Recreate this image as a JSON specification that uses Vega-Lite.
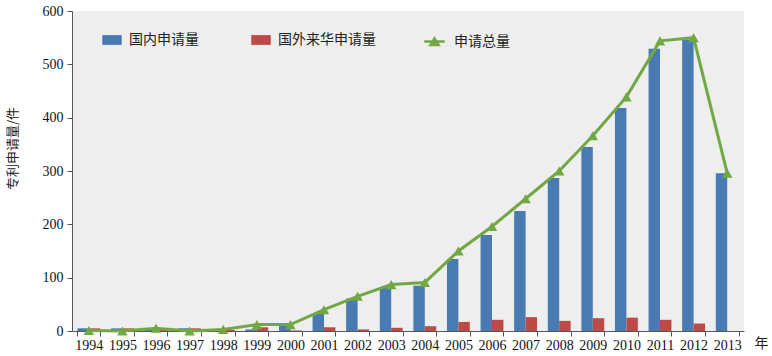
{
  "$schema": "https://vega.github.io/schema/vega-lite/v6.json",
  "width": 672,
  "height": 320,
  "autosize": {"type": "none"},
  "padding": {"left": 72, "top": 11, "right": 28, "bottom": 25},
  "background": "white",
  "config": {
    "view": {"fill": "#EDEEED", "stroke": null},
    "axis": {"labelFont": "Liberation Serif", "labelFontSize": 14, "labelColor": "#111", "domainColor": "#555", "tickColor": "#555", "grid": false, "titleFont": "Noto Sans CJK SC", "titleFontWeight": "normal", "titleColor": "#222"},
    "legend": {"labelFont": "Noto Sans CJK SC", "labelFontSize": 14, "labelColor": "#222"}
  },
  "data": {
    "values": [
      {"year": "1994", "series": "国内申请量", "value": 5}, {"year": "1994", "series": "国外来华申请量", "value": 5}, {"year": "1994", "series": "申请总量", "value": 1},
      {"year": "1995", "series": "国内申请量", "value": 5}, {"year": "1995", "series": "国外来华申请量", "value": 5}, {"year": "1995", "series": "申请总量", "value": 0},
      {"year": "1996", "series": "国内申请量", "value": 5}, {"year": "1996", "series": "国外来华申请量", "value": 5}, {"year": "1996", "series": "申请总量", "value": 5},
      {"year": "1997", "series": "国内申请量", "value": 5}, {"year": "1997", "series": "国外来华申请量", "value": 5}, {"year": "1997", "series": "申请总量", "value": 0},
      {"year": "1998", "series": "国内申请量", "value": 3}, {"year": "1998", "series": "国外来华申请量", "value": 2}, {"year": "1998", "series": "申请总量", "value": 3},
      {"year": "1999", "series": "国内申请量", "value": 3}, {"year": "1999", "series": "国外来华申请量", "value": 7}, {"year": "1999", "series": "申请总量", "value": 12},
      {"year": "2000", "series": "国内申请量", "value": 12}, {"year": "2000", "series": "国外来华申请量", "value": 1}, {"year": "2000", "series": "申请总量", "value": 12},
      {"year": "2001", "series": "国内申请量", "value": 33}, {"year": "2001", "series": "国外来华申请量", "value": 7}, {"year": "2001", "series": "申请总量", "value": 40},
      {"year": "2002", "series": "国内申请量", "value": 61}, {"year": "2002", "series": "国外来华申请量", "value": 3}, {"year": "2002", "series": "申请总量", "value": 65},
      {"year": "2003", "series": "国内申请量", "value": 82}, {"year": "2003", "series": "国外来华申请量", "value": 6}, {"year": "2003", "series": "申请总量", "value": 87},
      {"year": "2004", "series": "国内申请量", "value": 85}, {"year": "2004", "series": "国外来华申请量", "value": 9}, {"year": "2004", "series": "申请总量", "value": 91},
      {"year": "2005", "series": "国内申请量", "value": 135}, {"year": "2005", "series": "国外来华申请量", "value": 17}, {"year": "2005", "series": "申请总量", "value": 150},
      {"year": "2006", "series": "国内申请量", "value": 180}, {"year": "2006", "series": "国外来华申请量", "value": 21}, {"year": "2006", "series": "申请总量", "value": 196},
      {"year": "2007", "series": "国内申请量", "value": 225}, {"year": "2007", "series": "国外来华申请量", "value": 26}, {"year": "2007", "series": "申请总量", "value": 248},
      {"year": "2008", "series": "国内申请量", "value": 287}, {"year": "2008", "series": "国外来华申请量", "value": 19}, {"year": "2008", "series": "申请总量", "value": 300},
      {"year": "2009", "series": "国内申请量", "value": 345}, {"year": "2009", "series": "国外来华申请量", "value": 24}, {"year": "2009", "series": "申请总量", "value": 366},
      {"year": "2010", "series": "国内申请量", "value": 418}, {"year": "2010", "series": "国外来华申请量", "value": 25}, {"year": "2010", "series": "申请总量", "value": 439},
      {"year": "2011", "series": "国内申请量", "value": 529}, {"year": "2011", "series": "国外来华申请量", "value": 21}, {"year": "2011", "series": "申请总量", "value": 544},
      {"year": "2012", "series": "国内申请量", "value": 546}, {"year": "2012", "series": "国外来华申请量", "value": 14}, {"year": "2012", "series": "申请总量", "value": 550},
      {"year": "2013", "series": "国内申请量", "value": 296}, {"year": "2013", "series": "国外来华申请量", "value": 0}, {"year": "2013", "series": "申请总量", "value": 296}
    ]
  },
  "encoding": {
    "x": {
      "field": "year", "type": "ordinal",
      "scale": {"paddingInner": 0.32, "paddingOuter": 0.16},
      "axis": {"labelAngle": 0, "tickBand": "extent", "tickSize": 5, "labelPadding": 2, "title": "年", "titleFontSize": 14, "titleAnchor": "end", "titleAlign": "left", "titleX": 682, "titleY": 12, "titleBaseline": "middle"}
    },
    "y": {
      "field": "value", "type": "quantitative",
      "scale": {"domain": [0, 600], "nice": false},
      "axis": {"values": [0, 100, 200, 300, 400, 500, 600], "tickSize": 5, "labelPadding": 4, "title": "专利申请量/件", "titleFontSize": 13, "titleAngle": -90, "titleX": -60, "titleY": 137, "titleAlign": "center", "titleBaseline": "middle"}
    }
  },
  "layer": [
    {
      "transform": [{"filter": "datum.series !== '申请总量'"}],
      "mark": {"type": "bar"},
      "encoding": {
        "xOffset": {"field": "series", "type": "nominal", "scale": {"domain": ["国内申请量", "国外来华申请量"], "paddingInner": 0}},
        "color": {
          "field": "series", "type": "nominal",
          "scale": {"domain": ["国内申请量", "国外来华申请量"], "range": ["#4A7AB2", "#BC4B48"]},
          "legend": {"title": null, "orient": "none", "direction": "horizontal", "legendX": 30, "legendY": 19, "symbolType": "M-1,-0.5H1V0.5H-1Z", "symbolSize": 380, "symbolStrokeWidth": 0, "labelOffset": 7, "columnPadding": 52}
        }
      }
    },
    {
      "transform": [{"filter": "datum.series === '申请总量'"}],
      "mark": {"type": "line", "strokeWidth": 3, "point": {"shape": "triangle-up", "size": 110, "filled": true, "opacity": 1}},
      "encoding": {
        "color": {
          "field": "series", "type": "nominal",
          "scale": {"domain": ["申请总量"], "range": ["#72A843"]},
          "legend": {"title": null, "orient": "none", "direction": "horizontal", "legendX": 351, "legendY": 19, "symbolType": "M-1,0H1M-0.4,0.35L0,-0.3L0.4,0.35Z", "symbolSize": 420, "symbolStrokeWidth": 2.5, "symbolFillColor": "#72A843", "symbolStrokeColor": "#72A843", "labelOffset": 8}
        }
      }
    }
  ],
  "resolve": {"scale": {"color": "independent"}, "legend": {"color": "independent"}}
}
